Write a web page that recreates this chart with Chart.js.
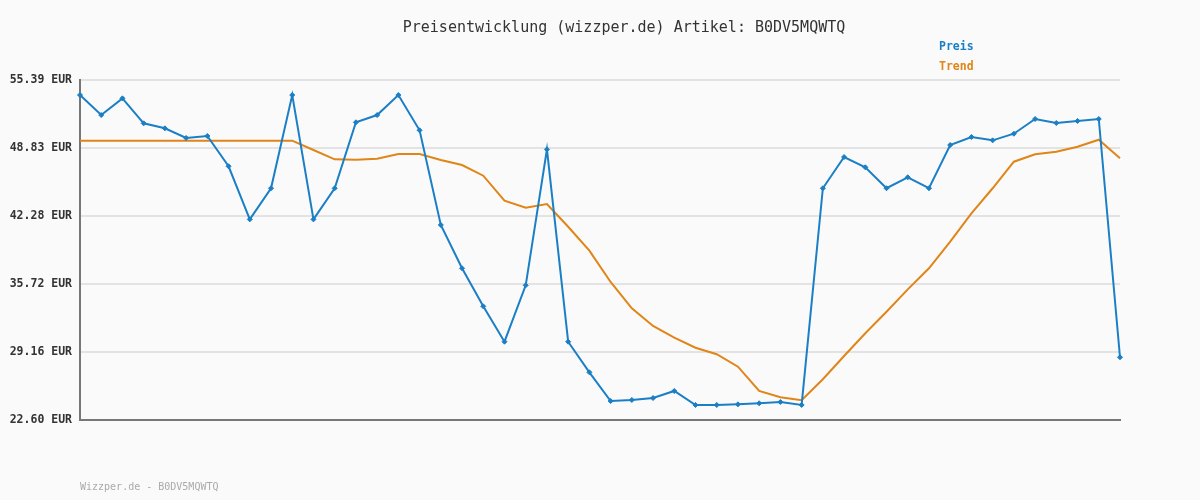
<!DOCTYPE html>
<html><head><meta charset="utf-8">
<script src="https://cdn.jsdelivr.net/npm/chart.js@4/dist/chart.umd.min.js"></script>
<style>html,body{margin:0;padding:0;background:#fafafa;}canvas{display:block}</style>
</head><body>
<canvas id="c" width="1200" height="500"></canvas>
<script>
const titleText = "Preisentwicklung (wizzper.de) Artikel: B0DV5MQWTQ";
const footerText = "Wizzper.de - B0DV5MQWTQ";
const seriesNames = ["Preis", "Trend"];
const categories = Array.from({length: 50}, (_, i) => String(i + 1));
const preis = [53.94, 52.01, 53.62, 51.21, 50.73, 49.80, 49.99, 47.07, 41.95, 44.95,
               53.94, 41.95, 44.95, 51.31, 52.01, 53.94, 50.54, 41.41, 37.23, 33.56,
               30.15, 35.59, 48.70, 30.15, 27.20, 24.43, 24.53, 24.72, 25.40, 24.05,
               24.05, 24.11, 24.21, 24.34, 24.05, 44.95, 47.96, 46.97, 44.95, 46.01,
               44.95, 49.12, 49.89, 49.57, 50.21, 51.63, 51.24, 51.44, 51.63, 28.65];
const trend = [49.54, 49.54, 49.54, 49.54, 49.54, 49.54, 49.54, 49.54, 49.54, 49.54,
               49.54, 48.64, 47.74, 47.70, 47.80, 48.25, 48.25, 47.67, 47.19, 46.16,
               43.75, 43.07, 43.43, 41.24, 38.93, 35.91, 33.37, 31.67, 30.54, 29.57,
               28.94, 27.74, 25.40, 24.79, 24.50, 26.53, 28.77, 30.96, 33.04, 35.20,
               37.23, 39.80, 42.53, 44.95, 47.51, 48.22, 48.48, 48.96, 49.63, 47.84];
const yTicks = [22.60, 29.16, 35.72, 42.28, 48.83, 55.39];

const BLUE = '#1b7fc6';
const ORANGE = '#e08518';

const textPlugin = {
  id: 'texts',
  beforeDraw(chart) {
    const ctx = chart.ctx;
    ctx.save();
    ctx.fillStyle = '#fafafa';
    ctx.fillRect(0, 0, chart.width, chart.height);
    ctx.restore();
  },
  afterDraw(chart) {
    const ctx = chart.ctx;
    ctx.save();
    ctx.textBaseline = 'middle';
    ctx.fillStyle = '#333333';
    ctx.font = '15px "DejaVu Sans Mono", monospace';
    ctx.textAlign = 'center';
    ctx.fillText(titleText, 624, 28);
    ctx.textAlign = 'left';
    ctx.font = 'bold 11.5px "DejaVu Sans Mono", monospace';
    ctx.fillStyle = BLUE;
    ctx.fillText(seriesNames[0], 939, 47);
    ctx.fillStyle = ORANGE;
    ctx.fillText(seriesNames[1], 939, 67);
    ctx.font = '10px "DejaVu Sans Mono", monospace';
    ctx.fillStyle = '#aaaaaa';
    ctx.fillText(footerText, 80, 487);
    ctx.restore();
  }
};

new Chart(document.getElementById('c'), {
  type: 'line',
  data: {
    labels: categories,
    datasets: [
      {
        label: seriesNames[0], data: preis, borderColor: BLUE, backgroundColor: BLUE,
        borderWidth: 2, tension: 0, pointStyle: 'rectRot', pointRadius: 2.5,
        pointBorderWidth: 1, pointBackgroundColor: BLUE, pointBorderColor: BLUE
      },
      {
        label: seriesNames[1], data: trend, borderColor: ORANGE, backgroundColor: ORANGE,
        borderWidth: 2, tension: 0, pointRadius: 0
      }
    ]
  },
  options: {
    responsive: false,
    animation: false,
    devicePixelRatio: 1,
    layout: { padding: { left: 0, right: 80, top: 80, bottom: 80 } },
    plugins: { legend: { display: false }, title: { display: false }, tooltip: { enabled: false } },
    scales: {
      x: {
        type: 'category', offset: false,
        grid: { display: false },
        ticks: { display: false },
        border: { display: true, color: '#777777', width: 2 },
        afterFit(scale) { scale.height = 0; }
      },
      y: {
        min: 22.60, max: 55.39,
        afterBuildTicks(scale) { scale.ticks = yTicks.map(v => ({ value: v })); },
        afterFit(scale) { scale.width = 80; },
        grid: { color: '#e3e3e3', lineWidth: 2, drawTicks: false },
        border: { display: true, color: '#777777', width: 2 },
        ticks: {
          padding: 8, color: '#333333',
          font: { family: '"DejaVu Sans Mono", monospace', size: 11.5, weight: 'bold' },
          callback: (v) => Number(v).toFixed(2) + ' EUR'
        }
      }
    }
  },
  plugins: [textPlugin]
});
</script>
</body></html>
